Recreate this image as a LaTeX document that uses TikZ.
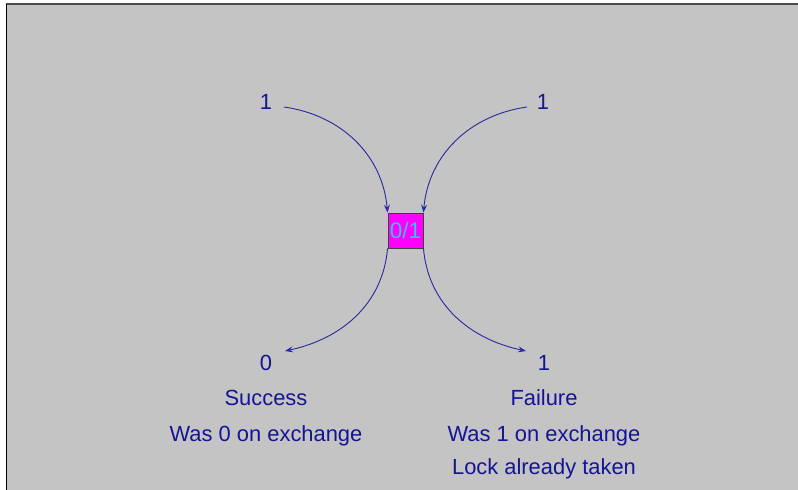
\documentclass[tikz,border=0pt]{standalone}
\usepackage{fontspec}
\setmainfont{Liberation Sans}
\usetikzlibrary{arrows.meta}
\definecolor{txtblue}{RGB}{20,20,150}
\definecolor{arrblue}{RGB}{40,40,160}
\definecolor{bggray}{RGB}{196,196,196}
\definecolor{boxmag}{RGB}{255,0,255}
\definecolor{boxtxt}{RGB}{60,190,255}
\begin{document}
\begin{tikzpicture}[x=1pt,y=-1pt,
  lbl/.style={text=txtblue,font=\fontsize{21.9}{24}\selectfont,inner sep=0pt,anchor=base},
  conn/.style={draw=arrblue,line width=0.9pt,-{Stealth[length=8pt,width=6pt,inset=3pt]}},
  gate/.style={draw=black!75,fill=boxmag,minimum width=35pt,minimum height=35pt,inner sep=0pt,line width=0.9pt,
    text=boxtxt,font=\fontsize{22.5}{24}\selectfont}]
\useasboundingbox (0,0) rectangle (798,490);
\fill[white] (0,0) rectangle (798,490);
\fill[bggray] (6,4) rectangle (798,490);
\draw[black!70,line width=1.2pt] (6,4) -- (798,4);
\draw[black,line width=1.5pt] (6.5,4) -- (6.5,490);
\node[gate] (g) at (405.5,230.5) {0/1};
\node[lbl] (tl) at (266,109) {1};
\node[lbl] (tr) at (543,109) {1};
\node[lbl] (bl) at (266,370) {0};
\node[lbl] (br) at (544,370) {1};
\node[lbl] (s1) at (266,405) {Success};
\node[lbl] (s2) at (266,441) {Was 0 on exchange};
\node[lbl] (f1) at (544,405) {Failure};
\node[lbl] (f2) at (544,441) {Was 1 on exchange};
\node[lbl] (f3) at (544,474) {Lock already taken};
\coordinate (tls) at (284,107);
\coordinate (trs) at (527,107);
\coordinate (ble) at (285,351);
\coordinate (bre) at (526,351);
\draw[conn] (tls) to[out=-8,in=95] (g.north west);
\draw[conn] (trs) to[out=188,in=85] (g.north east);
\draw[conn] (g.south west) to[out=-95,in=12] (ble);
\draw[conn] (g.south east) to[out=-85,in=168] (bre);
\end{tikzpicture}
\end{document}
